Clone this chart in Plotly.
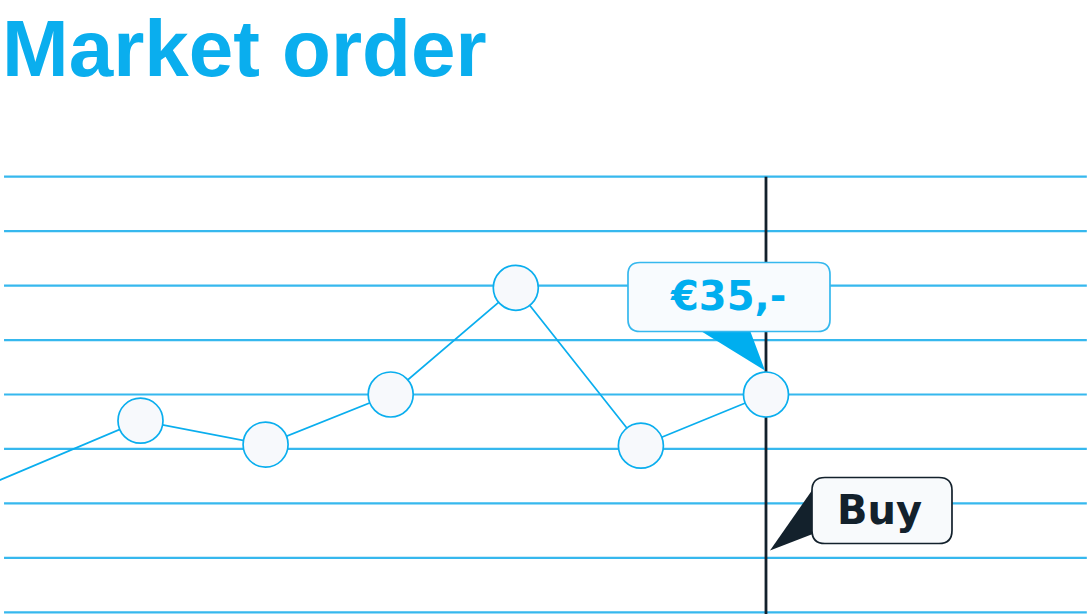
import plotly.graph_objects as go

# ---- data ----
x_index = [-1, 1, 2, 3, 4, 5, 6]
prices = [22.9, 32.6, 30.4, 35.0, 44.8, 30.3, 35.0]
grid_levels = [15, 20, 25, 30, 35, 40, 45, 50, 55]
buy_index = 6
buy_price = 35.0
price_label = "€35,-"
buy_label = "Buy"
title_text = "Market order"

CYAN = "#0aaeee"
GRID = "#36b8ee"
DARK = "#13212c"

x_range = [-0.123, 8.582]
y_range = [14.844, 57.452]


def rounded_rect(l, r, t, b, rad):
    return (f"M {l+rad},{t} L {r-rad},{t} Q {r},{t} {r},{t-rad} "
            f"L {r},{b+rad} Q {r},{b} {r-rad},{b} L {l+rad},{b} "
            f"Q {l},{b} {l},{b+rad} L {l},{t-rad} Q {l},{t} {l+rad},{t} Z")


fig = go.Figure()
fig.add_trace(go.Scatter(
    x=x_index, y=prices, mode="lines+markers",
    line=dict(color=CYAN, width=1.7),
    marker=dict(size=45, color="#f7f9fc", line=dict(color=CYAN, width=1.7)),
    hoverinfo="skip", cliponaxis=True,
))

shapes = []
for g in grid_levels:
    shapes.append(dict(type="line", xref="paper", yref="y", x0=0.0037, x1=0.998,
                       y0=g, y1=g, line=dict(color=GRID, width=2.2), layer="below"))
shapes.append(dict(type="line", xref="x", yref="y", x0=buy_index, x1=buy_index,
                   y0=max(grid_levels), y1=y_range[0], line=dict(color=DARK, width=2.8),
                   layer="below"))

# price callout
common = dict(xref="x", yref="y", xsizemode="pixel", ysizemode="pixel",
              xanchor=buy_index, yanchor=buy_price, layer="above")
shapes.append(dict(type="path", path="M -66,64 L -16,64 L -1,24 Z",
                   fillcolor="#00aeef", line=dict(width=0), **common))
shapes.append(dict(type="path", path=rounded_rect(-138, 64, 132, 63, 12),
                   fillcolor="#f8fbfe", line=dict(color=GRID, width=1.7), **common))
# buy callout
shapes.append(dict(type="path", path="M 48,-93 L 48,-139 L 4,-156 Z",
                   fillcolor=DARK, line=dict(width=0), **common))
shapes.append(dict(type="path", path=rounded_rect(46, 186, -83, -149, 13),
                   fillcolor="#f8fafc", line=dict(color=DARK, width=1.7), **common))

annotations = [
    dict(x=buy_index, y=buy_price, xref="x", yref="y", text=price_label,
         showarrow=False, xanchor="center", yanchor="middle", xshift=-38, yshift=99,
         font=dict(family="DejaVu Sans", size=40, color="#00aeef", weight="bold")),
    dict(x=buy_index, y=buy_price, xref="x", yref="y", text=buy_label,
         showarrow=False, xanchor="center", yanchor="middle", xshift=114, yshift=-115,
         font=dict(family="DejaVu Sans", size=40, color=DARK, weight="bold")),
]

fig.update_layout(
    width=1089, height=614,
    margin=dict(l=0, r=0, t=150, b=0),
    paper_bgcolor="white", plot_bgcolor="white",
    showlegend=False,
    title=dict(text=f"<b>{title_text}</b>", x=0, xref="container", xanchor="left",
               y=1 - 47.7 / 614, yref="container", yanchor="middle",
               pad=dict(l=2),
               font=dict(family="Liberation Sans", size=80, color=CYAN)),
    xaxis=dict(range=x_range, visible=False, fixedrange=True),
    yaxis=dict(range=y_range, visible=False, fixedrange=True),
    shapes=shapes, annotations=annotations,
)

fig.write_html(
    "out.html",
    config={"displayModeBar": False},
    post_script="document.body.style.margin='0';document.body.style.overflow='hidden';",
)
